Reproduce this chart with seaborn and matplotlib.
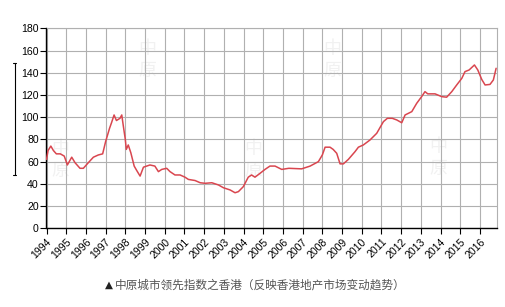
import matplotlib
matplotlib.use("Agg")
import matplotlib.pyplot as plt
from matplotlib.lines import Line2D
import seaborn as sns
import pandas as pd

# Data (decimal year, index value)
years = [
    1994.00, 1994.08, 1994.22, 1994.35, 1994.50, 1994.70, 1994.90,
    1995.06, 1995.28, 1995.45, 1995.70, 1995.87,
    1996.12, 1996.38, 1996.63, 1996.85,
    1997.00, 1997.20, 1997.30, 1997.43, 1997.55, 1997.73, 1997.82, 1997.90,
    1998.00, 1998.05, 1998.15, 1998.28, 1998.45, 1998.58, 1998.75, 1998.92,
    1999.25, 1999.50, 1999.68, 1999.85,
    2000.10, 2000.27, 2000.52, 2000.78,
    2001.03, 2001.20, 2001.54, 2001.80,
    2002.05, 2002.39, 2002.73, 2002.98,
    2003.32, 2003.57, 2003.74, 2003.99,
    2004.24, 2004.41, 2004.58, 2004.84,
    2005.09, 2005.34, 2005.60, 2005.94,
    2006.30, 2006.95,
    2007.38, 2007.80,
    2008.00, 2008.14, 2008.39, 2008.55, 2008.73, 2008.90,
    2009.07, 2009.32, 2009.66, 2009.83,
    2010.08, 2010.42, 2010.76,
    2011.10, 2011.30, 2011.55, 2011.78,
    2012.03, 2012.20, 2012.54, 2012.79,
    2013.04, 2013.21, 2013.35, 2013.72,
    2014.06, 2014.31, 2014.57, 2014.82,
    2015.08, 2015.24, 2015.45, 2015.72, 2015.89,
    2016.09, 2016.26, 2016.51, 2016.68, 2016.82,
]
index_values = [
    62, 70, 74, 70, 67, 67, 65,
    57, 64, 59, 54, 54,
    59, 64, 66, 67,
    78, 90, 95, 102, 97, 99, 102, 92,
    80, 71, 75, 68, 56, 52, 47, 55,
    57, 56, 51, 53,
    54, 51, 48, 48,
    46, 44, 43, 41,
    40.5, 41, 39, 36.5,
    34.5, 32, 33, 37.5,
    46, 48, 46, 49.5,
    53, 56, 56, 53,
    54, 53.5,
    56, 60,
    66, 73, 73, 71, 67.5, 58,
    58, 62, 69, 73,
    75, 79.5, 85.5,
    96, 99, 99, 97.5,
    95, 102, 105, 112.5,
    118.5, 123, 121, 121,
    118.5, 118, 123, 129,
    135, 141, 142.5, 147, 142.5,
    134, 129, 129.5, 133.5, 144,
]
tick_years = list(range(1994, 2017))
tick_labels = [str(y) for y in tick_years]
y_ticks = list(range(0, 181, 20))
caption = "▲中原城市领先指数之香港（反映香港地产市场变动趋势）"

df = pd.DataFrame({"year": years, "index": index_values})

sns.set_style("white")
plt.rcParams["font.family"] = ["Liberation Sans", "DejaVu Sans"]

fig = plt.figure(figsize=(5.06, 3.07), dpi=100)
ax = fig.add_axes([46.5 / 506, 1 - 228.3 / 307, (496.7 - 46.5) / 506, 200 / 307])
ax.set_zorder(2)

# faint watermarks
for (px, py) in [(147, 60), (60, 160), (253, 160), (332, 60), (438, 158)]:
    fig.text(px / 506, 1 - py / 307, "中\n原", ha="center", va="center",
             fontsize=13, color="#f1f1f1", family=["Noto Sans CJK SC"],
             linespacing=1.3, zorder=0)

sns.lineplot(data=df, x="year", y="index", ax=ax, color="#d9464f",
             linewidth=1.1, zorder=3)

ax.set_xlim(1994, 2016.85)
ax.set_ylim(0, 180)
ax.set_xticks(tick_years)
ax.set_xticklabels(tick_labels, rotation=45, ha="right", rotation_mode="anchor")
ax.set_yticks(y_ticks)
ax.tick_params(axis="both", labelsize=7.6, colors="black", length=4, width=0.8,
               direction="out", pad=1.5)
ax.tick_params(axis="x", pad=2)
ax.xaxis.set_ticks_position("bottom")
ax.yaxis.set_ticks_position("left")
ax.grid(True, color="#b0b0b0", linewidth=0.8)
ax.set_axisbelow(True)
ax.patch.set_alpha(0)
ax.set_xlabel("")
ax.set_ylabel("")
for side in ["left", "bottom"]:
    ax.spines[side].set_color("black")
    ax.spines[side].set_linewidth(1.0)
for side in ["top", "right"]:
    ax.spines[side].set_color("#b0b0b0")
    ax.spines[side].set_linewidth(0.8)

# odd bracket at far left
fx = 15.5 / 506
fig.add_artist(Line2D([fx, fx], [1 - 63 / 307, 1 - 175 / 307], color="black", linewidth=0.8))
fig.add_artist(Line2D([fx - 2 / 506, fx + 1 / 506], [1 - 63 / 307, 1 - 63 / 307], color="black", linewidth=0.8))
fig.add_artist(Line2D([fx - 2 / 506, fx + 1 / 506], [1 - 175 / 307, 1 - 175 / 307], color="black", linewidth=0.8))

fig.text(105 / 506, 1 - 285 / 307, "▲", ha="left", va="center", fontsize=7.5,
         color="#222222", family=["DejaVu Sans"])
fig.text(115 / 506, 1 - 285 / 307, caption[1:], ha="left", va="center", fontsize=8.4,
         color="#555555", family=["Noto Sans CJK SC", "DejaVu Sans"])

fig.savefig("out.png", dpi=100)
